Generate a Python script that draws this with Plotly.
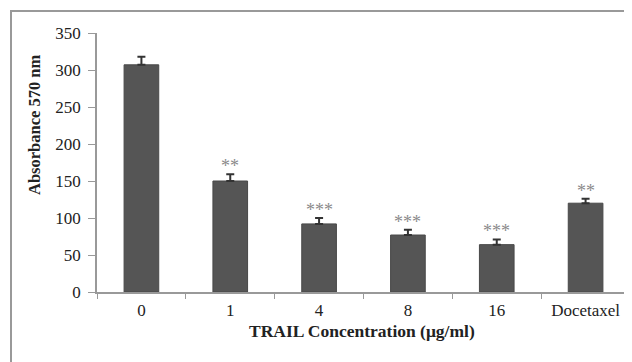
import plotly.graph_objects as go

categories = ["0", "1", "4", "8", "16", "Docetaxel"]
values = [307, 150, 92, 77, 64, 120]
errors = [11, 9, 8, 7, 7, 6]
stars = ["", "**", "***", "***", "***", "**"]
y_ticks = [0, 50, 100, 150, 200, 250, 300, 350]

# page has an 8px body margin; figure sized to fill the rest
W, H = 624, 354
L, R, T, B = 89, 2, 25, 70
pw, ph = W - L - R, H - T - B
font = "Liberation Serif"

fig = go.Figure()
fig.add_trace(go.Bar(
    x=categories, y=values, width=0.39,
    marker=dict(color="#555555", line=dict(color="#484848", width=1)),
    error_y=dict(type="data", array=errors, arrayminus=[0]*len(errors),
                 symmetric=False, color="#333333", thickness=2, width=4),
    showlegend=False,
))

for i, (v, e, s) in enumerate(zip(values, errors, stars)):
    if s:
        fig.add_annotation(x=i, y=v + e, text=s, showarrow=False,
                           yanchor="bottom", yshift=-4,
                           font=dict(family=font, size=18, color="#8a8a8a"))

# axis titles
fig.add_annotation(xref="paper", yref="paper", x=(27 - L) / pw, y=1 - (117 - T) / ph,
                   text="<b>Absorbance 570 nm</b>", textangle=-90, showarrow=False,
                   xanchor="center", yanchor="middle",
                   font=dict(family=font, size=16.5, color="#222222"))
fig.add_annotation(xref="paper", yref="paper", x=(354 - L) / pw, y=-(323 - (H - B)) / ph,
                   text="<b>TRAIL Concentration (μg/ml)</b>", showarrow=False,
                   xanchor="center", yanchor="middle",
                   font=dict(family=font, size=17.5, color="#222222"))

fig.update_layout(
    width=W, height=H,
    margin=dict(l=L, r=R, t=T, b=B, autoexpand=False),
    paper_bgcolor="white", plot_bgcolor="white",
    xaxis=dict(type="category", range=[-0.5, len(categories) - 0.5],
               showline=True, linecolor="#999999", linewidth=1.5,
               ticks="outside", tickson="boundaries", ticklen=5, tickcolor="#999999",
               tickangle=0, ticklabelstandoff=2,
               tickfont=dict(family=font, size=17, color="#222222"),
               showgrid=False),
    yaxis=dict(range=[0, 350], tickvals=y_ticks, showline=True, linecolor="#999999",
               linewidth=1.5, ticks="outside", ticklen=7, tickcolor="#999999",
               ticklabelstandoff=4,
               tickfont=dict(family=font, size=17, color="#222222"),
               showgrid=False, zeroline=False),
)

# outer frame
fig.add_shape(type="rect", xref="paper", yref="paper",
              x0=(3 - L) / pw, x1=1.05, y0=-0.4, y1=1 + (T - 3) / ph,
              line=dict(color="#999999", width=2), layer="below")

fig.write_html("out.html")
